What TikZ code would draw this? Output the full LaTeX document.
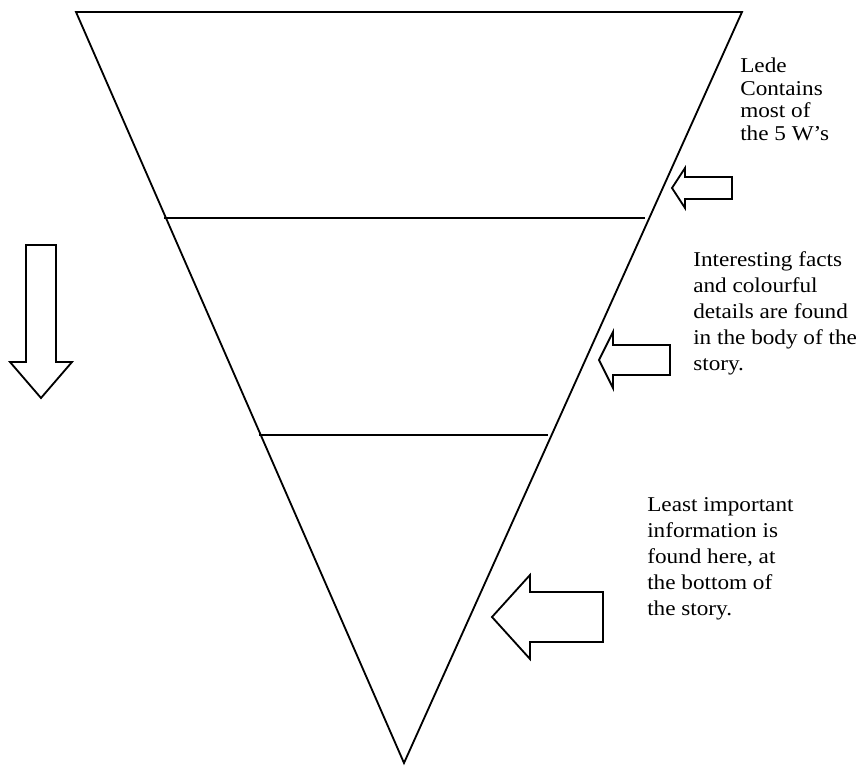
\documentclass[tikz,border=0pt]{standalone}
\usepackage{fontspec}
\setmainfont{Liberation Serif}[FakeStretch=1.1]
\begin{document}
\begin{tikzpicture}[x=0.025cm, y=-0.025cm,
    edge/.style={line width=1.3pt, line join=miter},
    level/.style={line width=2pt},
    blk/.style={draw, line width=1.3pt, line join=miter, fill=white},
    note/.style={anchor=north west, inner sep=0pt, align=left, font=\fontsize{15}{#1}\selectfont},
    note/.default=18.5pt
]
\useasboundingbox (0,0) rectangle (862,766);

% inverted pyramid
\coordinate (tl) at (76,12);
\coordinate (tr) at (742,12);
\coordinate (apex) at (404,763);
\draw[edge] (tl) -- (tr) -- (apex) -- cycle;
\draw[level] (tl) -- (tr);

% section lines
\coordinate (midw) at (164,218);
\coordinate (mide) at (645,218);
\coordinate (loww) at (259,435);
\coordinate (lowe) at (548,435);
\draw[level] (midw) -- (mide);
\draw[level] (loww) -- (lowe);

% block arrows
\coordinate (ledetip) at (672,188);
\coordinate (bodytip) at (599,360);
\coordinate (tailtip) at (492,617);
\coordinate (downtip) at (41,398);
\draw[blk] (ledetip) -- ++(13,-20) -- ++(0,9) -- ++(47,0) -- ++(0,22) -- ++(-47,0) -- ++(0,9) -- cycle;
\draw[blk] (bodytip) -- ++(14,-28) -- ++(0,13) -- ++(57,0) -- ++(0,30) -- ++(-57,0) -- ++(0,13) -- cycle;
\draw[blk] (tailtip) -- ++(38,-42) -- ++(0,17) -- ++(73,0) -- ++(0,50) -- ++(-73,0) -- ++(0,17) -- cycle;
\draw[blk] (downtip) -- ++(-31,-36) -- ++(16,0) -- ++(0,-117) -- ++(30,0) -- ++(0,117) -- ++(16,0) -- cycle;

% notes
\node[note=16pt] (lede) at (740,58) {Lede\\Contains\\most of\\the 5 W’s};
\node[note] (body) at (693,251) {Interesting facts\\and colourful\\details are found\\in the body of the\\story.};
\node[note] (tail) at (647,497) {Least important\\information is\\found here, at\\the bottom of\\the story.};
\end{tikzpicture}
\end{document}
